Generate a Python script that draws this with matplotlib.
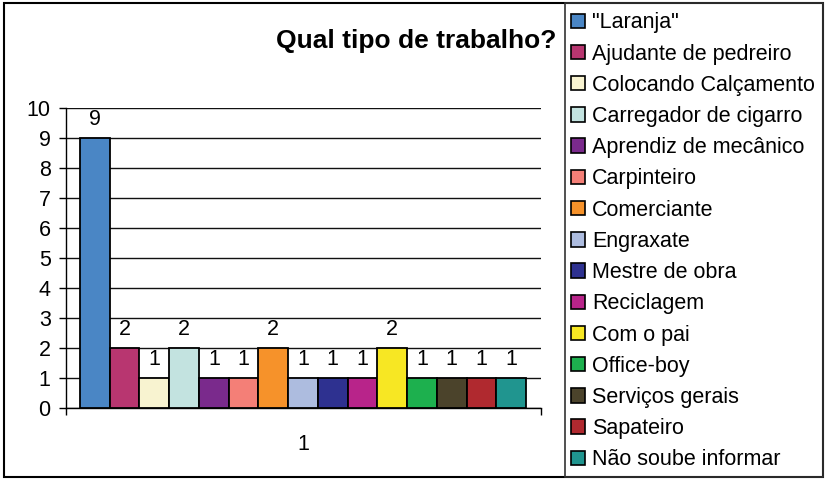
import matplotlib
matplotlib.use("Agg")
import matplotlib.pyplot as plt
from matplotlib.patches import Rectangle, Patch

plt.rcParams['font.family'] = ['Liberation Sans', 'DejaVu Sans']

categories = ['"Laranja"', 'Ajudante de pedreiro', 'Colocando Calçamento',
              'Carregador de cigarro', 'Aprendiz de mecânico', 'Carpinteiro',
              'Comerciante', 'Engraxate', 'Mestre de obra', 'Reciclagem',
              'Com o pai', 'Office-boy', 'Serviços gerais', 'Sapateiro',
              'Não soube informar']
values = [9, 2, 1, 2, 1, 1, 2, 1, 1, 1, 2, 1, 1, 1, 1]
colors = ['#4A86C5', '#B83670', '#F8F3D0', '#C3E3E0', '#7A2A8C', '#F47F77',
          '#F6922A', '#ADBCDF', '#2E3190', '#B8248A', '#F7E723', '#1DB04E',
          '#4B432B', '#B0292F', '#20958F']
title = 'Qual tipo de trabalho?'
group_label = '1'
yticks = list(range(0, 11))

W, H = 832, 480
fig = plt.figure(figsize=(W / 100, H / 100), dpi=100)

def fx(px):
    return px / W

def fy(py):
    return 1 - py / H

FS = 15.5

ax = fig.add_axes([fx(66), fy(408), fx(541) - fx(66), fy(108) - fy(408)])
n = len(values)
pos = list(range(n))
bars = ax.bar(pos, values, width=1.0, color=colors, edgecolor='black', linewidth=1.3, zorder=3)
for p, v in zip(pos, values):
    ax.annotate(str(v), (p, v), xytext=(0, 6), textcoords='offset points',
                ha='center', va='bottom', fontsize=FS)

ax.set_ylim(0, 10)
ax.set_xlim(-0.97, n - 0.5 + 0.5)
ax.set_yticks(yticks)
ax.tick_params(axis='y', direction='out', length=5, width=1, labelsize=FS, pad=6)
ax.yaxis.grid(True, color='#111111', linewidth=1.0, zorder=0)
ax.set_axisbelow(True)
ax.set_xticks([(n - 1) / 2])
ax.set_xticklabels([group_label], fontsize=FS)
ax.tick_params(axis='x', length=0, pad=19)
ax.set_xticks([-0.97, n - 0.5 + 0.5], minor=True)
ax.tick_params(axis='x', which='minor', direction='out', length=5, width=1)
for s in ['top', 'right']:
    ax.spines[s].set_visible(False)
for s in ['left', 'bottom']:
    ax.spines[s].set_linewidth(1.0)

fig.text(fx(416), fy(41), title, ha='center', va='center', fontsize=19, fontweight='bold')

# outer frame
fig.patches.append(Rectangle((fx(4), fy(477)), fx(823) - fx(4), fy(3) - fy(477),
                             transform=fig.transFigure, fill=False, edgecolor='black',
                             linewidth=1.5))
# legend box
fig.patches.append(Rectangle((fx(565), fy(477)), fx(823) - fx(565), fy(3) - fy(477),
                             transform=fig.transFigure, fill=False, edgecolor='#333333',
                             linewidth=1.2, zorder=5))
handles = [Patch(facecolor=c, edgecolor='black', linewidth=1.2) for c in colors]
leg = fig.legend(handles, categories, loc='upper left',
                 bbox_to_anchor=(fx(567), fy(8)),
                 fontsize=FS, frameon=False,
                 handlelength=0.65, handleheight=0.65, handletextpad=0.3,
                 labelspacing=0.475, borderpad=0.2, borderaxespad=0)

fig.savefig('out.png', dpi=100)
